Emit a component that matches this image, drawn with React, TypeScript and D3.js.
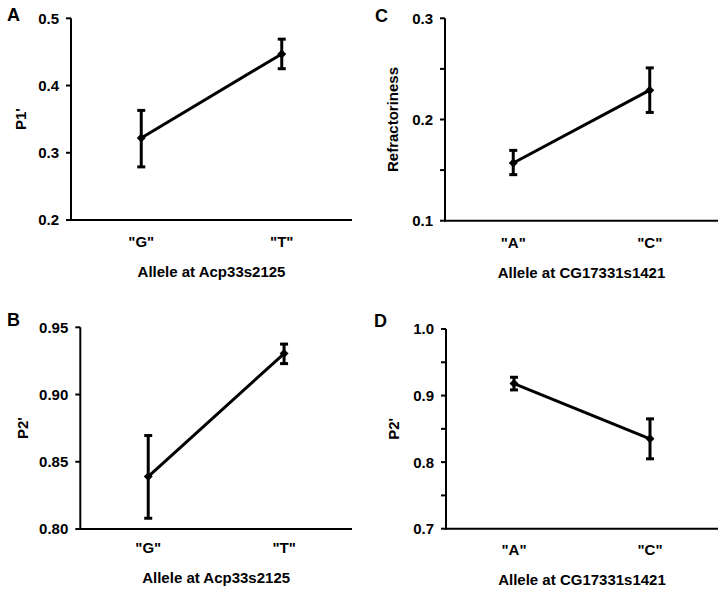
import React from "react";
import * as d3 from "d3";

// ---- data ----
const panelLetters = ["A", "B", "C", "D"];
const allelesAcp = ['"G"', '"T"'];
const allelesCG = ['"A"', '"C"'];
const xTitles = ["Allele at Acp33s2125", "Allele at Acp33s2125", "Allele at CG17331s1421", "Allele at CG17331s1421"];
const yTitles = ["P1'", "P2'", "Refractoriness", "P2'"];

const meanA = [0.322, 0.447];
const lowA = [0.279, 0.425];
const highA = [0.363, 0.469];

const meanB = [0.839, 0.9305];
const lowB = [0.808, 0.923];
const highB = [0.8695, 0.9375];

const meanC = [0.157, 0.229];
const lowC = [0.1455, 0.207];
const highC = [0.1695, 0.251];

const meanD = [0.918, 0.835];
const lowD = [0.9085, 0.805];
const highD = [0.9275, 0.865];

const ticksA = [0.2, 0.3, 0.4, 0.5];
const tickLabelsA = ["0.2", "0.3", "0.4", "0.5"];
const ticksB = [0.8, 0.85, 0.9, 0.95];
const tickLabelsB = ["0.80", "0.85", "0.90", "0.95"];
const ticksC = [0.1, 0.15, 0.2, 0.25, 0.3];
const tickLabelsC = ["0.1", "", "0.2", "", "0.3"];
const ticksD = [0.7, 0.75, 0.8, 0.85, 0.9, 0.95, 1.0];
const tickLabelsD = ["0.7", "", "0.8", "", "0.9", "", "1.0"];

// ---- layout ----
const W = 720, H = 590;
const FONT = "'Liberation Sans', Arial, Helvetica, sans-serif";

type P = {
  letter: string; cats: string[]; mean: number[]; low: number[]; high: number[];
  ticks: number[]; tickLabels: string[]; xTitle: string; yTitle: string;
  x0: number; x1: number; yTop: number; yBot: number; letterX: number; letterY: number;
  yTitleOff: number; catOff: number; titleOff: number;
};

const panels: P[] = [
  { letter: panelLetters[0], cats: allelesAcp, mean: meanA, low: lowA, high: highA, ticks: ticksA, tickLabels: tickLabelsA,
    xTitle: xTitles[0], yTitle: yTitles[0], x0: 71, x1: 352, yTop: 18.3, yBot: 220, letterX: 7, letterY: 21, yTitleOff: 50, catOff: 27, titleOff: 57 },
  { letter: panelLetters[1], cats: allelesAcp, mean: meanB, low: lowB, high: highB, ticks: ticksB, tickLabels: tickLabelsB,
    xTitle: xTitles[1], yTitle: yTitles[1], x0: 80.3, x1: 352, yTop: 327.3, yBot: 529, letterX: 7, letterY: 326, yTitleOff: 58, catOff: 24, titleOff: 54 },
  { letter: panelLetters[2], cats: allelesCG, mean: meanC, low: lowC, high: highC, ticks: ticksC, tickLabels: tickLabelsC,
    xTitle: xTitles[2], yTitle: yTitles[2], x0: 445, x1: 718, yTop: 18.3, yBot: 220.7, letterX: 375, letterY: 22, yTitleOff: 52, catOff: 27, titleOff: 57 },
  { letter: panelLetters[3], cats: allelesCG, mean: meanD, low: lowD, high: highD, ticks: ticksD, tickLabels: tickLabelsD,
    xTitle: xTitles[3], yTitle: yTitles[3], x0: 446, x1: 718, yTop: 329, yBot: 528.7, letterX: 374, letterY: 327, yTitleOff: 52, catOff: 26, titleOff: 56 },
];

function Panel({ p }: { p: P }) {
  const x = d3.scalePoint<string>().domain(p.cats).range([p.x0, p.x1]).padding(0.5);
  const y = d3.scaleLinear().domain([p.ticks[0], p.ticks[p.ticks.length - 1]]).range([p.yBot, p.yTop]);
  const pts = p.cats.map((c, i) => [x(c)!, y(p.mean[i])] as [number, number]);
  const line = d3.line()(pts)!;
  const r = 4.5;
  const cap = 4;
  return (
    <g>
      <text x={p.letterX} y={p.letterY} fontFamily={FONT} fontWeight="bold" fontSize={18}>{p.letter}</text>
      {/* axes */}
      <line x1={p.x0} x2={p.x0} y1={p.yTop} y2={p.yBot + 1} stroke="#000" strokeWidth={2} />
      <line x1={p.x0 - 1} x2={p.x1} y1={p.yBot} y2={p.yBot} stroke="#000" strokeWidth={2} />
      {p.ticks.map((t, i) => (
        <g key={i}>
          <line x1={p.x0 - 5} x2={p.x0} y1={y(t)} y2={y(t)} stroke="#000" strokeWidth={2} />
          {p.tickLabels[i] && (
            <text x={p.x0 - 12} y={y(t)} dy="0.36em" textAnchor="end" fontFamily={FONT} fontWeight="bold" fontSize={15}>{p.tickLabels[i]}</text>
          )}
        </g>
      ))}
      {p.cats.map((c) => (
        <text key={c} x={x(c)!} y={p.yBot + p.catOff} textAnchor="middle" fontFamily={FONT} fontWeight="bold" fontSize={15}>{c}</text>
      ))}
      <text x={(p.x0 + p.x1) / 2} y={p.yBot + p.titleOff} textAnchor="middle" fontFamily={FONT} fontWeight="bold" fontSize={15}>{p.xTitle}</text>
      <text transform={`translate(${p.x0 - p.yTitleOff},${(p.yTop + p.yBot) / 2}) rotate(-90)`} dy="0.36em" textAnchor="middle" fontFamily={FONT} fontWeight="bold" fontSize={15}>{p.yTitle}</text>
      {/* data */}
      <path d={line} fill="none" stroke="#000" strokeWidth={3} />
      {p.cats.map((c, i) => {
        const cx = x(c)!;
        return (
          <g key={c}>
            <line x1={cx} x2={cx} y1={y(p.low[i])} y2={y(p.high[i])} stroke="#000" strokeWidth={3} />
            <line x1={cx - cap} x2={cx + cap} y1={y(p.low[i])} y2={y(p.low[i])} stroke="#000" strokeWidth={3} />
            <line x1={cx - cap} x2={cx + cap} y1={y(p.high[i])} y2={y(p.high[i])} stroke="#000" strokeWidth={3} />
            <path d={`M${cx},${y(p.mean[i]) - r}L${cx + r},${y(p.mean[i])}L${cx},${y(p.mean[i]) + r}L${cx - r},${y(p.mean[i])}Z`} fill="#000" />
          </g>
        );
      })}
    </g>
  );
}

export default function App() {
  return (
    <svg width={W} height={H} style={{ position: "absolute", left: 0, top: 0, background: "#fff" }}>
      <rect width={W} height={H} fill="#fff" />
      {panels.map((p) => <Panel key={p.letter} p={p} />)}
    </svg>
  );
}
